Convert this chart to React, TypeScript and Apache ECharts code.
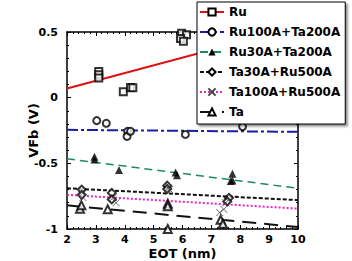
import React, { useEffect, useRef } from "react";
import * as echarts from "echarts";

const seriesNames = ["Ru", "Ru100A+Ta200A", "Ru30A+Ta200A", "Ta30A+Ru500A", "Ta100A+Ru500A", "Ta"];

const ruPts = [[3.1, 0.2], [3.1, 0.175], [3.1, 0.15], [3.95, 0.045], [4.2, 0.078], [4.28, 0.075], [5.97, 0.49], [6.14, 0.48], [5.93, 0.45], [6.03, 0.43]];
const ru100Pts = [[3.03, -0.175], [3.36, -0.195], [4.1, -0.256], [4.08, -0.295], [4.2, -0.256], [6.1, -0.28], [8.08, -0.22]];
const ru30Pts = [[2.95, -0.45], [2.95, -0.47], [3.8, -0.55], [5.76, -0.57], [5.81, -0.59], [7.73, -0.58], [7.73, -0.63], [7.67, -0.635]];
const ta30Pts = [[2.51, -0.7], [2.51, -0.74], [3.55, -0.725], [3.55, -0.775], [5.47, -0.67], [5.47, -0.695], [7.61, -0.763], [7.55, -0.79]];
const ta100Pts = [[2.5, -0.72], [2.55, -0.76], [3.6, -0.76], [3.7, -0.8], [5.5, -0.69], [5.55, -0.7], [7.5, -0.8], [7.43, -0.85], [7.29, -0.875]];
const taPts = [[2.45, -0.845], [2.5, -0.82], [3.41, -0.85], [5.49, -0.807], [5.49, -0.827], [5.49, -1.0], [7.32, -0.93], [7.4, -0.96]];

const ruFit = [[2, 0.07], [10, 0.54]];
const ru100Fit = [[2, -0.245], [10, -0.26]];
const ru30Fit = [[2, -0.465], [10, -0.69]];
const ta30Fit = [[2, -0.69], [10, -0.78]];
const ta100Fit = [[2, -0.74], [10, -0.845]];
const taFit = [[2, -0.82], [10, -0.985]];

const xTicks = [2, 3, 4, 5, 6, 7, 8, 9, 10];
const yTickLabels: Record<string, string> = { "0.5": "0.5", "0": "0", "-0.5": "-0.5", "-1": "-1" };

const FONT = "DejaVu Sans";
const crossPath = "path://M0,0L10,10M0,10L10,0";

const styles = [
  { pts: ruPts, fit: ruFit, symbol: "emptyRect", size: 7, lineColor: "#dd1111", dash: "solid" as any, width: 2 },
  { pts: ru100Pts, fit: ru100Fit, symbol: "emptyCircle", size: 7, lineColor: "#1c1ca8", dash: [11, 3, 3, 3], width: 2 },
  { pts: ru30Pts, fit: ru30Fit, symbol: "triangle", size: 8, lineColor: "#1f8a5e", dash: [8, 5], width: 1.5 },
  { pts: ta30Pts, fit: ta30Fit, symbol: "emptyDiamond", size: 8, lineColor: "#111111", dash: [4, 2], width: 2 },
  { pts: ta100Pts, fit: ta100Fit, symbol: crossPath, size: 7, lineColor: "#ee22cc", dash: [2, 2], width: 2 },
  { pts: taPts, fit: taFit, symbol: "emptyTriangle", size: 8, lineColor: "#111111", dash: [14, 8], width: 2 },
];

export default function App() {
  const ref = useRef<HTMLDivElement>(null);
  useEffect(() => {
    if (!ref.current) return;
    const chart = echarts.init(ref.current, null, { renderer: "svg" });
    const series: any[] = [];
    styles.forEach((s, i) => {
      const isCross = s.symbol === crossPath;
      const itemStyle = isCross
        ? { color: "rgba(0,0,0,0)", borderColor: "#444", borderWidth: 1 }
        : { color: "#000" };
      series.push({
        type: "line",
        name: seriesNames[i],
        data: s.fit,
        symbol: s.symbol,
        symbolSize: 7,
        showSymbol: false,
        clip: true,
        z: 2,
        lineStyle: { color: s.lineColor, type: s.dash, width: s.width },
        itemStyle,
        emphasis: { disabled: true },
      });
      series.push({
        type: "scatter",
        name: seriesNames[i] + " data",
        data: s.pts,
        symbol: s.symbol,
        symbolSize: s.size,
        clip: true,
        z: 3,
        itemStyle,
      });
    });
    const axisLabelStyle = { fontFamily: FONT, fontWeight: "bold", fontSize: 11, lineHeight: 11, color: "#000" };
    chart.setOption({
      animation: false,
      grid: { left: 67, top: 32, right: 54, bottom: 32, outerBoundsMode: "none", containLabel: false },
      legend: {
        data: seriesNames,
        orient: "vertical",
        left: 197,
        top: 2,
        padding: [4, 5, 6, 2],
        itemGap: 8,
        itemWidth: 24,
        itemHeight: 9,
        backgroundColor: "#fff",
        borderColor: "#000",
        borderWidth: 1,
        shadowBlur: 2,
        shadowColor: "rgba(0,0,0,0.45)",
        shadowOffsetX: 2,
        shadowOffsetY: 2,
        textStyle: { fontFamily: FONT, fontWeight: "bold", fontSize: 12, color: "#000", lineHeight: 12 },
        selectedMode: false,
        z: 10,
      },
      xAxis: [
        {
          type: "value",
          min: 2,
          max: 10,
          interval: 1,
          name: "EOT (nm)",
          nameLocation: "middle",
          nameGap: 18,
          nameMoveOverlap: false,
          nameTextStyle: { fontFamily: FONT, fontWeight: "bold", fontSize: 13, lineHeight: 13, color: "#000" },
          axisLine: { show: true, onZero: false, lineStyle: { color: "#000", width: 1.5 } },
          axisTick: { inside: true, length: 4, lineStyle: { color: "#000" } },
          minorTick: { show: true, splitNumber: 5, length: 2, lineStyle: { color: "#000" } },
          splitLine: { show: false },
          axisLabel: { ...axisLabelStyle, margin: 5, formatter: (v: number) => (xTicks.includes(v) ? String(v) : "") },
        },
        {
          type: "value",
          position: "top",
          min: 2,
          max: 10,
          interval: 1,
          axisLine: { show: true, onZero: false, lineStyle: { color: "#000", width: 1.5 } },
          axisTick: { inside: true, length: 4, lineStyle: { color: "#000" } },
          minorTick: { show: true, splitNumber: 5, length: 2, lineStyle: { color: "#000" } },
          splitLine: { show: false },
          axisLabel: { show: false },
        },
      ],
      yAxis: [
        {
          type: "value",
          min: -1,
          max: 0.5,
          interval: 0.5,
          name: "VFb (V)",
          nameLocation: "middle",
          nameRotate: 90,
          nameGap: 27,
          nameMoveOverlap: false,
          nameTextStyle: { fontFamily: FONT, fontWeight: "bold", fontSize: 13, lineHeight: 13, color: "#000" },
          axisLine: { show: true, onZero: false, lineStyle: { color: "#000", width: 1.5 } },
          axisTick: { inside: true, length: 4, lineStyle: { color: "#000" } },
          minorTick: { show: true, splitNumber: 5, length: 2, lineStyle: { color: "#000" } },
          splitLine: { show: false },
          axisLabel: { ...axisLabelStyle, margin: 9, formatter: (v: number) => yTickLabels[String(v)] ?? String(v) },
        },
        {
          type: "value",
          position: "right",
          min: -1,
          max: 0.5,
          interval: 0.5,
          axisLine: { show: true, onZero: false, lineStyle: { color: "#000", width: 1.5 } },
          axisTick: { inside: true, length: 4, lineStyle: { color: "#000" } },
          minorTick: { show: true, splitNumber: 5, length: 2, lineStyle: { color: "#000" } },
          splitLine: { show: false },
          axisLabel: { show: false },
        },
      ],
      series,
    });
    return () => chart.dispose();
  }, []);
  return <div ref={ref} style={{ width: 352, height: 261, position: "absolute", left: 0, top: 0 }} />;
}
